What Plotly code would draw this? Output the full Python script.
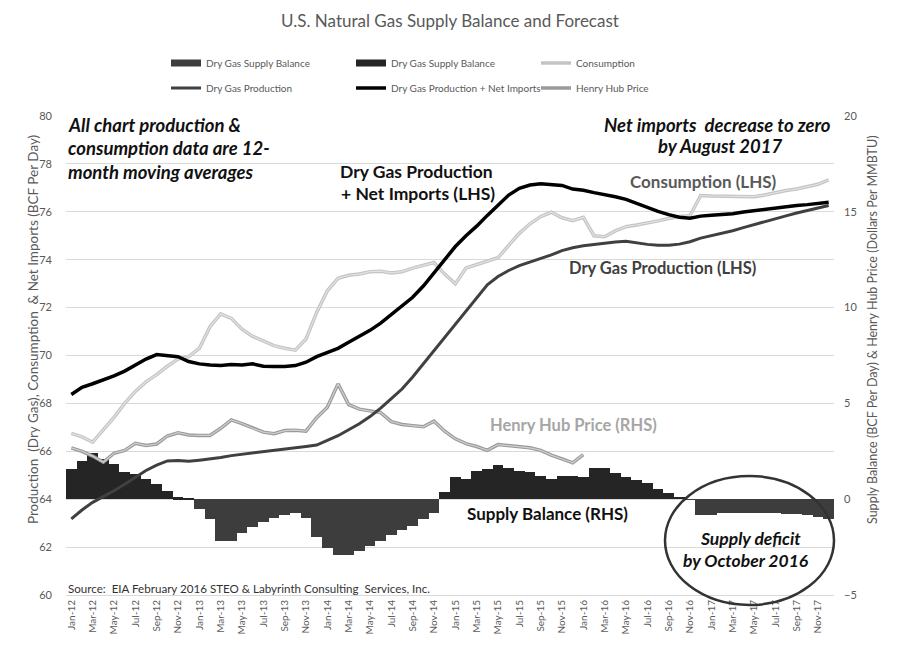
import plotly.graph_objects as go

months = ["Jan-12","Feb-12","Mar-12","Apr-12","May-12","Jun-12","Jul-12","Aug-12","Sep-12","Oct-12","Nov-12","Dec-12",
          "Jan-13","Feb-13","Mar-13","Apr-13","May-13","Jun-13","Jul-13","Aug-13","Sep-13","Oct-13","Nov-13","Dec-13",
          "Jan-14","Feb-14","Mar-14","Apr-14","May-14","Jun-14","Jul-14","Aug-14","Sep-14","Oct-14","Nov-14","Dec-14",
          "Jan-15","Feb-15","Mar-15","Apr-15","May-15","Jun-15","Jul-15","Aug-15","Sep-15","Oct-15","Nov-15","Dec-15",
          "Jan-16","Feb-16","Mar-16","Apr-16","May-16","Jun-16","Jul-16","Aug-16","Sep-16","Oct-16","Nov-16","Dec-16",
          "Jan-17","Feb-17","Mar-17","Apr-17","May-17","Jun-17","Jul-17","Aug-17","Sep-17","Oct-17","Nov-17","Dec-17"]

tick_labels = ["Jan-12","Mar-12","May-12","Jul-12","Sep-12","Nov-12","Jan-13","Mar-13","May-13","Jul-13","Sep-13","Nov-13",
               "Jan-14","Mar-14","May-14","Jul-14","Sep-14","Nov-14","Jan-15","Mar-15","May-15","Jul-15","Sep-15","Nov-15",
               "Jan-16","Mar-16","May-16","Jul-16","Sep-16","Nov-16","Jan-17","Mar-17","May-17","Jul-17","Sep-17","Nov-17"]

# Dry gas supply balance (BCF/day, RHS)
supply_balance = [1.58, 2.01, 2.40, 2.10, 1.84, 1.40, 1.32, 1.06, 0.80, 0.41, 0.10, 0.02,
                  -0.51, -1.03, -2.16, -2.16, -1.78, -1.43, -1.20, -0.98, -0.80, -0.72, -0.98, -1.95,
                  -2.54, -2.89, -2.89, -2.68, -2.42, -2.16, -1.85, -1.60, -1.38, -1.03, -0.74, 0.36,
                  1.14, 1.06, 1.49, 1.58, 1.81, 1.63, 1.49, 1.40, 1.23, 1.06, 1.23, 1.23,
                  1.14, 1.63, 1.63, 1.35, 1.14, 1.00, 0.85, 0.54, 0.31, 0.14, -0.04, -0.80,
                  -0.80, -0.74, -0.70, -0.70, -0.70, -0.74, -0.74, -0.77, -0.77, -0.82, -0.94, -1.03]

# Consumption (BCF/day, LHS)
consumption = [66.75, 66.60, 66.38, 66.90, 67.42, 68.00, 68.50, 68.90, 69.20, 69.55, 69.85, 69.95,
               70.30, 71.20, 71.74, 71.55, 71.10, 70.80, 70.60, 70.41, 70.30, 70.22, 70.69, 71.80,
               72.70, 73.22, 73.35, 73.40, 73.50, 73.52, 73.45, 73.50, 73.65, 73.75, 73.88, 73.40,
               72.99, 73.65, 73.80, 73.95, 74.08, 74.60, 75.10, 75.50, 75.80, 75.98, 75.75, 75.63,
               75.77, 75.00, 74.96, 75.20, 75.38, 75.45, 75.52, 75.62, 75.72, 75.80, 75.84, 76.68,
               76.66, 76.65, 76.63, 76.63, 76.63, 76.70, 76.80, 76.89, 76.95, 77.05, 77.15, 77.33]

# Dry gas production (BCF/day, LHS)
production = [63.18, 63.55, 63.87, 64.10, 64.35, 64.62, 64.90, 65.20, 65.42, 65.60, 65.62, 65.58,
              65.63, 65.68, 65.74, 65.82, 65.87, 65.93, 65.98, 66.03, 66.09, 66.15, 66.20, 66.26,
              66.45, 66.65, 66.90, 67.15, 67.45, 67.80, 68.20, 68.60, 69.10, 69.65, 70.20, 70.75,
              71.30, 71.85, 72.40, 72.95, 73.30, 73.55, 73.75, 73.89, 74.05, 74.20, 74.38, 74.50,
              74.58, 74.64, 74.70, 74.74, 74.77, 74.70, 74.64, 74.60, 74.60, 74.65, 74.75, 74.90,
              75.00, 75.10, 75.21, 75.34, 75.47, 75.60, 75.72, 75.83, 75.95, 76.05, 76.15, 76.26]

# Dry gas production + net imports (BCF/day, LHS)
prod_net_imports = [68.37, 68.67, 68.82, 68.98, 69.15, 69.35, 69.60, 69.85, 70.04, 69.98, 69.95, 69.75,
                    69.65, 69.60, 69.58, 69.62, 69.60, 69.65, 69.55, 69.54, 69.54, 69.58, 69.72, 69.95,
                    70.12, 70.30, 70.55, 70.80, 71.05, 71.35, 71.70, 72.05, 72.43, 72.90, 73.45, 74.00,
                    74.55, 75.00, 75.40, 75.85, 76.30, 76.70, 76.98, 77.12, 77.17, 77.15, 77.10, 76.95,
                    76.90, 76.80, 76.72, 76.63, 76.52, 76.35, 76.20, 76.02, 75.88, 75.77, 75.73, 75.82,
                    75.86, 75.88, 75.92, 75.99, 76.05, 76.10, 76.15, 76.20, 76.26, 76.30, 76.35, 76.40]

# Henry Hub price ($/MMBTU, RHS) Jan-12 .. Jan-16
henry_hub = [2.68, 2.50, 2.25, 1.93, 2.40, 2.55, 2.92, 2.80, 2.88, 3.30, 3.47, 3.35,
             3.33, 3.33, 3.70, 4.14, 3.95, 3.70, 3.50, 3.42, 3.58, 3.60, 3.55, 4.25,
             4.80, 6.02, 4.94, 4.70, 4.60, 4.52, 4.05, 3.90, 3.84, 3.78, 4.07, 3.55,
             3.15, 2.90, 2.75, 2.55, 2.85, 2.80, 2.75, 2.68, 2.55, 2.30, 2.10, 1.90,
             2.33]

# ---- geometry (screen pixels; the page body adds an 8 px offset) ----
OFF = 8
FW, FH = 900 - OFF, 654 - OFF
PL, PR, PT, PB = 66, 834, 116, 595          # plot area in screen px
W, H = PR - PL, PB - PT
def px(x):
    return (x - PL) / W
def py(y):
    return 1 - (y - PT) / H

neg_vals = [v if v < 0 else None for v in supply_balance]
pos_vals = [v if v >= 0 else None for v in supply_balance]

fig = go.Figure()
fig.add_trace(go.Bar(x=months, y=neg_vals, name="Dry Gas Supply Balance", showlegend=False,
                     marker=dict(color="#3d3d3d", line=dict(width=0)), yaxis="y"))
fig.add_trace(go.Bar(x=months, y=pos_vals, name="Dry Gas Supply Balance", showlegend=False,
                     marker=dict(color="#252525", line=dict(width=0)), yaxis="y"))
# legend entries for the two bar series (shown as thick bars like the original)
fig.add_trace(go.Scatter(x=[months[0]], y=[None], name="Dry Gas Supply Balance", mode="lines",
                         line=dict(color="#3d3d3d", width=7), yaxis="y", legend="legend", hoverinfo="skip"))
fig.add_trace(go.Scatter(x=[months[0]], y=[None], name="Dry Gas Supply Balance", mode="lines",
                         line=dict(color="#252525", width=7), yaxis="y", legend="legend", hoverinfo="skip"))
fig.add_trace(go.Scatter(x=months, y=consumption, name="Consumption", mode="lines",
                         line=dict(color="#c4c4c4", width=3.5), yaxis="y2", legend="legend"))
fig.add_trace(go.Scatter(x=months, y=consumption, showlegend=False, mode="lines", hoverinfo="skip",
                         line=dict(color="#e2e2e2", width=1.2), yaxis="y2"))
fig.add_trace(go.Scatter(x=months, y=production, name="Dry Gas Production", mode="lines",
                         line=dict(color="#404040", width=3), yaxis="y2", legend="legend2"))
fig.add_trace(go.Scatter(x=months, y=prod_net_imports, name="Dry Gas Production + Net Imports", mode="lines",
                         line=dict(color="#000000", width=3.5), yaxis="y2", legend="legend2"))
fig.add_trace(go.Scatter(x=months[:len(henry_hub)], y=henry_hub, name="Henry Hub Price", mode="lines",
                         line=dict(color="#9a9a9a", width=3.5), yaxis="y", legend="legend2"))
fig.add_trace(go.Scatter(x=months[:len(henry_hub)], y=henry_hub, showlegend=False, mode="lines", hoverinfo="skip",
                         line=dict(color="#cfcfcf", width=1.2), yaxis="y"))

FONT = "Lato, 'Open Sans', sans-serif"
leg_common = dict(orientation="h", xanchor="left", x=px(166), yanchor="middle",
                  entrywidth=140, entrywidthmode="pixels", bgcolor="rgba(0,0,0,0)",
                  font=dict(family=FONT, size=10, color="#595959"), itemclick=False, itemdoubleclick=False)

fig.update_layout(
    width=FW, height=FH,
    margin=dict(l=PL - OFF, r=FW - (PR - OFF), t=PT - OFF, b=FH - (PB - OFF), autoexpand=False),
    paper_bgcolor="white", plot_bgcolor="white",
    barmode="overlay", bargap=0,
    font=dict(family=FONT, color="#595959"),
    title=dict(text="U.S. Natural Gas Supply Balance and Forecast", x=(450 - OFF) / FW, xanchor="center",
               y=1 - (21 - OFF) / FH, yanchor="middle", font=dict(family=FONT, size=17, color="#595959")),
    xaxis=dict(type="category", tickmode="array", tickvals=tick_labels, ticktext=tick_labels,
               tickangle=-90, tickfont=dict(size=10, color="#595959"), showgrid=False, ticks="",
               showline=True, linecolor="#d9d9d9", linewidth=1, range=[-0.5, len(months) - 0.5]),
    yaxis=dict(side="right", range=[-5, 20], tickvals=[-5, 0, 5, 10, 15, 20], showgrid=False, zeroline=False,
               ticks="", tickfont=dict(size=11, color="#595959"), ticklabelstandoff=9),
    yaxis2=dict(side="left", overlaying="y", range=[60, 80], dtick=2, showgrid=True, gridcolor="#d9d9d9",
                gridwidth=1, zeroline=False, ticks="", tickfont=dict(size=11, color="#595959"),
                ticklabelstandoff=13),
    legend=dict(y=py(63), **leg_common),
    legend2=dict(y=py(88), **leg_common),
    showlegend=True,
)

def ann(text, x, y, size=15, color="#111111", bold=True, italic=False, anchor="center", angle=0):
    t = text
    if bold:
        t = "<b>" + t + "</b>"
    if italic:
        t = "<i>" + t + "</i>"
    fig.add_annotation(text=t, xref="paper", yref="paper", x=px(x), y=py(y), xanchor=anchor, yanchor="middle",
                       showarrow=False, textangle=angle, font=dict(family=FONT, size=size, color=color))

ann("All chart production &", 66, 125, size=18.5, italic=True, anchor="left")
ann("consumption data are 12-", 66, 148, size=18.5, italic=True, anchor="left")
ann("month moving averages", 66, 172, size=18.5, italic=True, anchor="left")
ann("Net imports  decrease to zero", 717, 125, size=18.5, italic=True)
ann("by August 2017", 720, 146, size=18.5, italic=True)
ann("Dry Gas Production", 416, 172, size=17.5)
ann("+ Net Imports (LHS)", 418, 193, size=17.5)
ann("Consumption (LHS)", 703, 181, size=17, color="#595959")
ann("Dry Gas Production (LHS)", 662, 268, size=16.5, color="#404040")
ann("Henry Hub Price (RHS)", 573, 425, size=16.5, color="#a6a6a6")
ann("Supply Balance (RHS)", 547, 513, size=17)
ann("Supply deficit", 750, 538, size=17.5, italic=True)
ann("by October 2016", 746, 560, size=17.5, italic=True)
ann("Source:  EIA February 2016 STEO & Labyrinth Consulting  Services, Inc.", 66, 588, size=11.6,
    color="#333333", bold=False, anchor="left")
ann("Production  (Dry Gas), Consumption  & Net Imports (BCF Per Day)", 33, 330, size=13.5,
    color="#595959", bold=False, angle=-90)
ann("Supply Balance (BCF Per Day) & Henry Hub Price (Dollars Per MMBTU)", 872, 330, size=12.5,
    color="#595959", bold=False, angle=-90)

fig.add_shape(type="circle", xref="paper", yref="paper", x0=px(665), x1=px(834), y0=py(605), y1=py(476),
              line=dict(color="#333333", width=2.5), fillcolor="rgba(0,0,0,0)", layer="above")

fig.write_html("out.html")
